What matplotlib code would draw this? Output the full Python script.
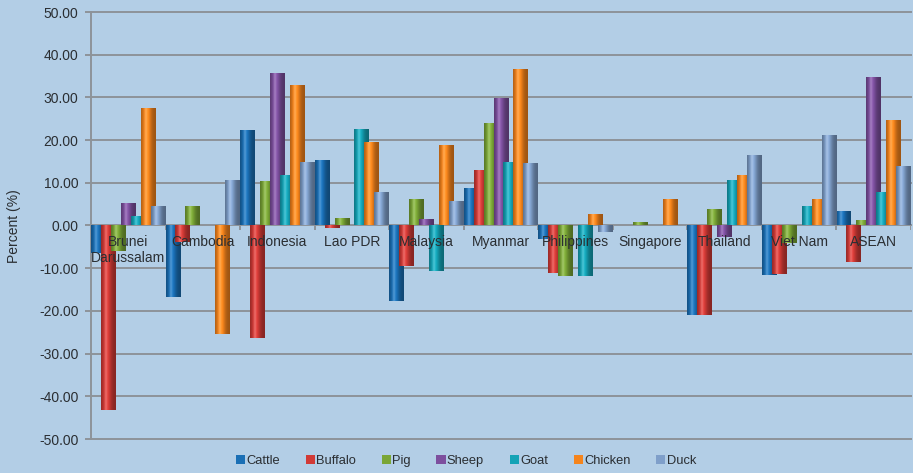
import numpy as np
import matplotlib.pyplot as plt
from matplotlib.colors import to_rgb
from matplotlib.patches import Patch

plt.rcParams['font.family'] = ['Liberation Sans', 'DejaVu Sans']

# Change in livestock numbers by country (%)
categories = ['Brunei\nDarussalam', 'Cambodia', 'Indonesia', 'Lao PDR', 'Malaysia',
              'Myanmar', 'Philippines', 'Singapore', 'Thailand', 'Viet Nam', 'ASEAN']
cattle = [-6.4, -16.8, 22.3, 15.3, -17.7, 8.8, -3.1, 0.0, -20.9, -11.6, 3.5]
buffalo = [-43.1, -3.9, -26.3, -0.7, -9.5, 13.1, -11.1, 0.0, -20.9, -11.3, -8.5]
pig = [-6.0, 4.5, 10.4, 1.8, 6.2, 24.1, -11.9, 0.9, 3.9, -4.1, 1.2]
sheep = [5.3, 0.0, 35.8, 0.0, 1.6, 29.9, 0.0, 0.0, -2.7, 0.0, 34.8]
goat = [2.2, 0.0, 11.8, 22.6, -10.7, 14.9, -11.9, 0.0, 10.7, 4.6, 7.9]
chicken = [27.6, -25.5, 32.9, 19.5, 18.8, 36.7, 2.7, 6.1, 11.9, 6.2, 24.8]
duck = [4.5, 10.6, 14.8, 7.8, 5.7, 14.7, -1.5, 0.0, 16.4, 21.1, 14.0]

series = {
    'Cattle': cattle,
    'Buffalo': buffalo,
    'Pig': pig,
    'Sheep': sheep,
    'Goat': goat,
    'Chicken': chicken,
    'Duck': duck,
}
colors = ['#1a6fb5', '#d23a36', '#7aa636', '#7d4f9e', '#14a3b6', '#f5841c', '#7f9fca']

bg = '#b3cee6'
grid_col = '#8d9399'
text_col = '#2a2e32'


def cylinder(ax, bars, color, z):
    # horizontal shading so each bar looks rounded
    base = np.array(to_rgb(color))
    t = np.linspace(0, 1, 48)
    shade = 0.64 + 0.46 * np.exp(-((t - 0.38) / 0.3) ** 2)
    rgb = np.clip(base[None, :] * shade[:, None], 0, 1)
    glow = 0.22 * np.exp(-((t - 0.33) / 0.09) ** 2)
    rgb = rgb + (1 - rgb) * glow[:, None]
    img = np.concatenate([rgb, np.ones((len(t), 1))], axis=1)[None, :, :]
    for b in bars:
        h = b.get_height()
        if h == 0:
            continue
        x0 = b.get_x()
        x1 = x0 + b.get_width()
        y0, y1 = sorted([b.get_y(), b.get_y() + h])
        im = ax.imshow(img, extent=[x0, x1, y0, y1], aspect='auto',
                       interpolation='bilinear', zorder=z + 0.1)
        im.set_clip_path(b)


fig = plt.figure(figsize=(9.13, 4.73), dpi=100, facecolor=bg)
ax = fig.add_axes([91 / 913, 34 / 473, 820 / 913, 427 / 473])
ax.set_facecolor(bg)

step = 1 / 7.5
width = 1.5 * step
x = np.arange(len(categories))

for k, (name, vals) in enumerate(series.items()):
    z = 3 + k
    bars = ax.bar(x + 0.1 + k * step, vals, width=width, color=colors[k],
                  edgecolor='none', zorder=z, label=name)
    cylinder(ax, bars, colors[k], z)

# category boundary ticks on the zero line
ax.vlines(np.arange(len(categories) + 1), -1.0, 0, color=grid_col, lw=1.4, zorder=2)

for i, cat in enumerate(categories):
    ax.text(i + 0.5, -2.3, cat, ha='center', va='top', fontsize=10,
            color=text_col, linespacing=1.15, zorder=20)

ax.set_xlim(0, len(categories))
ax.set_ylim(-50, 50)
ax.set_yticks(np.arange(-50, 51, 10))
ax.set_yticklabels([f'{v:.2f}' for v in np.arange(-50, 51, 10)])
ax.set_xticks([])
ax.tick_params(axis='y', length=4, width=1.4, color=grid_col, labelsize=10,
               labelcolor=text_col, pad=5)
ax.yaxis.grid(True, color=grid_col, lw=1.4, zorder=1)
ax.set_axisbelow(True)
for side in ['top', 'right', 'bottom']:
    ax.spines[side].set_visible(False)
ax.spines['left'].set_color(grid_col)
ax.spines['left'].set_linewidth(1.4)
for gl in ax.yaxis.get_gridlines():
    gl.set_clip_on(False)

fig.text(14 / 913, (473 - 226) / 473, 'Percent (%)', rotation=90, ha='center',
         va='center', fontsize=10, color=text_col)

handles = [Patch(facecolor=c, edgecolor='none') for c in colors]
fig.legend(handles, list(series.keys()), loc='center', bbox_to_anchor=(466 / 913, 12 / 473),
           ncol=7, frameon=False, fontsize=9.3, handlelength=0.7, handleheight=0.7,
           handletextpad=0.1, columnspacing=2.0, labelcolor=text_col)

fig.savefig('out.png', dpi=100, facecolor=bg)
